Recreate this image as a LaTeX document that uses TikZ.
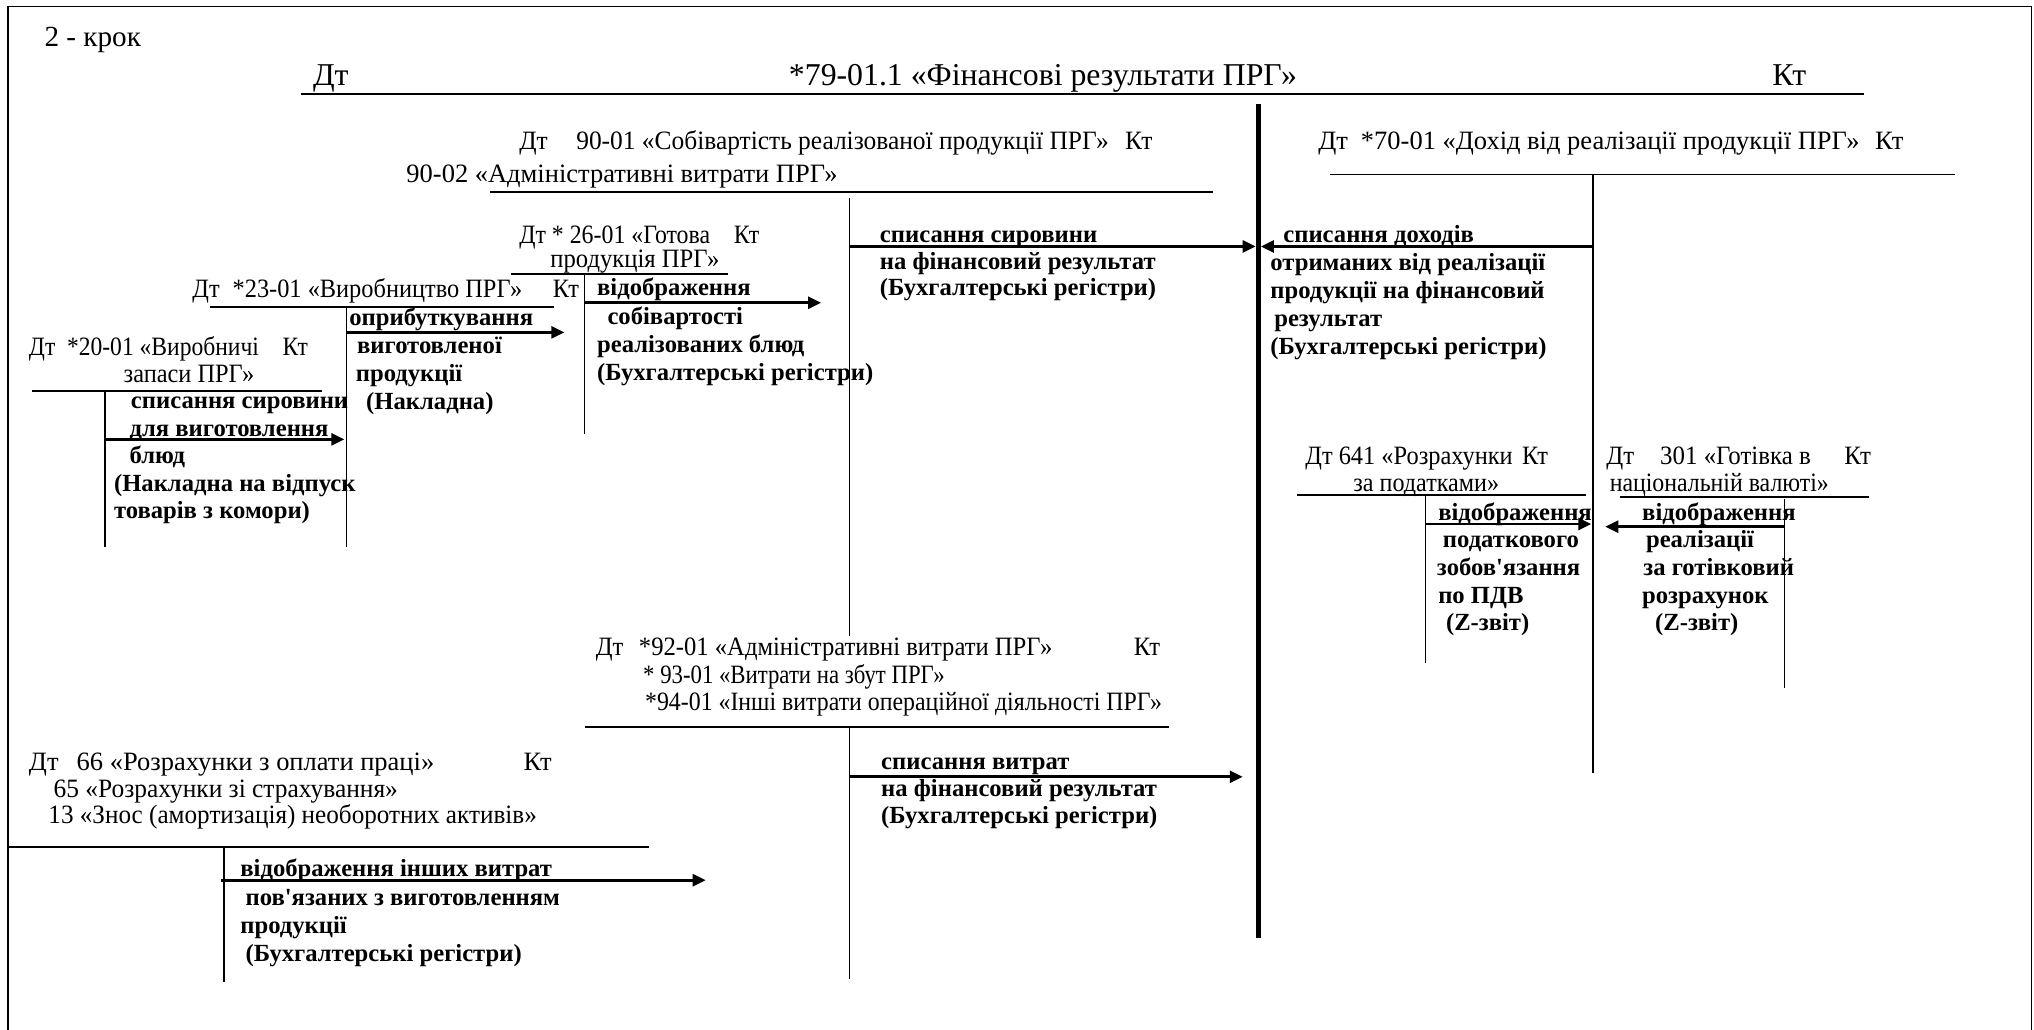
\documentclass[tikz,border=0pt]{standalone}
\usepackage{fontspec}
\setmainfont{Liberation Serif}
\usetikzlibrary{arrows.meta}
\newcommand\gap[1]{\hspace*{\dimexpr #1pt*6/10\relax}}
\newcommand\ktline[2]{\hbox to \dimexpr #1pt*6/10\relax{#2\hfill Кт}}
\newcommand\mlines[1]{\begin{tabular}[t]{@{}l@{}}#1\end{tabular}}
\tikzset{
  reg/.style={font=\fontsize{12.25}{13}\selectfont\addfontfeature{FakeStretch=#1}, inner sep=0pt, anchor=base west},
  reg/.default=1,
  hdr/.style={font=\fontsize{14.7}{16}\selectfont, inner sep=0pt, anchor=base west},
  bld/.style={font=\bfseries\fontsize{11.4}{#1}\selectfont, inner sep=0pt, anchor=base west},
  bld/.default=12.6,
  tline/.style={line width=0.9pt},
  tvert/.style={line width=0.6pt},
  hline/.style={line width=1.3pt},
  bigline/.style={line width=2.5pt},
  border/.style={line width=0.8pt},
  arr/.style={line width=1.3pt, -{Triangle[length=6pt,width=5.5pt]}},
}
\begin{document}
\begin{tikzpicture}[x=0.6pt, y=-0.6pt]
\useasboundingbox (0,0) rectangle (1568,794);
\draw[border] (6.2,800) -- (6.2,5.1) -- (1566,5.1) -- (1566,800);

% header
\node[font=\fontsize{13.5}{15}\selectfont, inner sep=0pt, anchor=base west] (step) at (34,36) {2 - крок};
\node[hdr] (hdt) at (241,66) {Дт};
\node[hdr, anchor=base] (title) at (804,66) {*79-01.1 «Фінансові результати ПРГ»};
\node[hdr] (hkt) at (1366,66) {Кт};
\draw[hline] (232,72.5) -- (1437,72.5);
\draw[bigline] (970,80) -- (970,723);

% 90-01
\node[reg=0.96] (a90) at (400,115) {\ktline{488}{Дт\gap{22}90-01 «Собівартість реалізованої продукції ПРГ»}};
\node[reg] (a90b) at (313,141) {90-02 «Адміністративні витрати ПРГ»};
\draw[tline] (378,148) -- (935,148);
\draw[tvert] (655,153) -- (655,490);
\coordinate (s1) at (655,190); \coordinate (e1) at (968,190);
\draw[arr] (s1) -- (e1);
\node[bld=12.3] (t1) at (678,187) {\mlines{списання сировини\\на фінансовий результат\\(Бухгалтерські регістри)}};

% 70-01
\node[reg] (a70) at (1016,115) {\ktline{451}{Дт\gap{10}*70-01 «Дохід від реалізації продукції ПРГ»}};
\draw[tline] (1025,134.5) -- (1507,134.5);
\draw[tvert] (1228,134.5) -- (1228,596);
\coordinate (s2) at (1228,190); \coordinate (e2) at (972,190);
\draw[arr] (s2) -- (e2);
\node[bld=12.9] (t2) at (979,187) {\mlines{\gap{10}списання доходів\\отриманих від реалізації\\продукції на фінансовий\\\gap{3}результат\\(Бухгалтерські регістри)}};

% 26-01
\node[reg=0.9] (a26) at (400,187.6) {\ktline{185}{Дт * 26-01 «Готова}};
\node[reg=0.93] (a26b) at (424,206.5) {продукція ПРГ»};
\draw[tline] (394,211) -- (561,211);
\draw[tvert] (450.5,211) -- (450.5,334.6);
\coordinate (s3) at (450.5,233.4); \coordinate (e3) at (633,233.4);
\draw[arr] (s3) -- (e3);
\node[bld=13.1] (t3) at (460,228) {\mlines{відображення\\\gap{8}собівартості\\реалізованих блюд\\(Бухгалтерські регістри)}};

% 23-01
\node[reg=0.92] (a23) at (148,229) {\ktline{298}{Дт\gap{10}*23-01 «Виробництво ПРГ»}};
\draw[tline] (161.5,236.5) -- (427,236.5);
\draw[tvert] (267,236.5) -- (267,421.5);
\coordinate (s4) at (267,256.2); \coordinate (e4) at (435,256.2);
\draw[arr] (s4) -- (e4);
\node[bld=13] (t4) at (269,251) {\mlines{оприбуткування\\\gap{6}виготовленої\\\gap{5}продукції\\\gap{13}(Накладна)}};

% 20-01
\node[reg=0.89] (a20) at (22,274) {\ktline{215}{Дт\gap{9}*20-01 «Виробничі}};
\node[reg=0.92] (a20b) at (95,295) {запаси ПРГ»};
\draw[tline] (25,301.5) -- (248,301.5);
\draw[tvert] (81,301.5) -- (81,421.5);
\coordinate (s5) at (81,338.7); \coordinate (e5) at (265.5,338.7);
\draw[arr] (s5) -- (e5);
\node[bld=12.7] (t5) at (87.6,315) {\mlines{\gap{13}списання сировини\\\gap{12}для виготовлення\\\gap{12}блюд\\(Накладна на відпуск\\товарів з комори)}};

% 641
\node[reg=0.92] (a641) at (1006,358) {\ktline{187}{Дт 641 «Розрахунки}};
\node[reg=0.91] (a641b) at (1043,378.5) {за податками»};
\draw[tline] (1000,381.6) -- (1223,381.6);
\draw[tvert] (1098.7,381.6) -- (1098.7,511.4);
\coordinate (s6) at (1098.7,404); \coordinate (e6) at (1226.7,404);
\draw[arr] (s6) -- (e6);
\node[bld=12.8] (t6) at (1107.4,401) {\mlines{\gap{1}відображення\\\gap{4.6}податкового\\зобов\textquotesingle язання\\\gap{1}по ПДВ\\\gap{7}(Z-звіт)}};

% 301
\node[reg=0.94] (a301) at (1238,358) {\ktline{204}{Дт\gap{20}301 «Готівка в}};
\node[reg=0.9] (a301b) at (1240.6,378.5) {національній валюті»};
\draw[tline] (1249,383.4) -- (1440.6,383.4);
\draw[tvert] (1375.5,385) -- (1375.5,530.7);
\coordinate (s7) at (1375.5,406); \coordinate (e7) at (1237.5,406);
\draw[arr] (s7) -- (e7);
\node[bld=12.8] (t7) at (1265.6,401) {\mlines{відображення\\\gap{3}реалізації\\\gap{1}за готівковий\\розрахунок\\\gap{10}(Z-звіт)}};

% 92-01
\node[reg=0.93] (a92) at (459,505) {\ktline{435}{Дт\gap{12}*92-01 «Адміністративні витрати ПРГ»}};
\node[reg=0.86] (a93) at (495.5,527) {* 93-01 «Витрати на збут ПРГ»};
\node[reg=0.9] (a94) at (497,548) {*94-01 «Інші витрати операційної діяльності ПРГ»};
\draw[tline] (450.7,560.3) -- (901,560.3);
\draw[tvert] (655,560.3) -- (655,754.3);
\coordinate (s8) at (655,598.8); \coordinate (e8) at (958,598.8);
\draw[arr] (s8) -- (e8);
\node[bld=12.6] (t8) at (679,593) {\mlines{списання витрат\\на фінансовий результат\\(Бухгалтерські регістри)}};

% 66
\node[reg] (a66) at (22,594) {\ktline{403}{Дт\gap{14}66 «Розрахунки з оплати праці»}};
\node[reg=0.96] (a65) at (41,615) {65 «Розрахунки зі страхування»};
\node[reg=0.95] (a13) at (37,635) {13 «Знос (амортизація) необоротних активів»};
\draw[tline] (6.6,652.8) -- (500,652.8);
\draw[tvert] (172.6,652.8) -- (172.6,757);
\coordinate (s9) at (170.4,678.5); \coordinate (e9) at (544,678.5);
\draw[arr] (s9) -- (e9);
\node[bld=13.1] (t9) at (185,676) {\mlines{відображення інших витрат\\\gap{4}пов\textquotesingle язаних з виготовленням\\продукції\\\gap{4}(Бухгалтерські регістри)}};
\end{tikzpicture}
\end{document}
